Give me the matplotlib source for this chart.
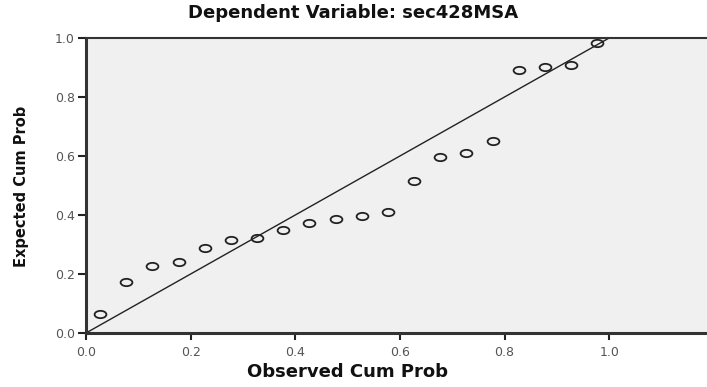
import numpy as np
import matplotlib
matplotlib.use('Agg')
import matplotlib.pyplot as plt
from matplotlib.path import Path

# observed vs expected cumulative probabilities (P-P plot of residuals)
observed = [0.027, 0.077, 0.127, 0.177, 0.227, 0.277, 0.327, 0.377, 0.427, 0.477,
            0.527, 0.577, 0.627, 0.677, 0.727, 0.777, 0.827, 0.877, 0.927, 0.977]
expected = [0.064, 0.174, 0.227, 0.241, 0.289, 0.315, 0.323, 0.349, 0.372, 0.385,
            0.397, 0.409, 0.515, 0.598, 0.611, 0.652, 0.892, 0.903, 0.907, 0.984]
ref_line = [0.0, 1.0]
ticks = [0.0, 0.2, 0.4, 0.6, 0.8, 1.0]

fig = plt.figure(figsize=(7.07, 3.87), dpi=100)
ax = fig.add_axes([86 / 707, 54 / 387, 621 / 707, 295 / 387])
ax.set_facecolor('#f0f0f0')

# squashed circle marker, like the stretched original
circ = Path.unit_circle()
ell = Path(circ.vertices * [1.0, 0.62], circ.codes)

ax.plot(ref_line, ref_line, color='#222222', lw=1.0, zorder=2)
ax.plot(observed, expected, linestyle='none', marker=ell, markersize=8.5,
        markerfacecolor='none', markeredgecolor='#222222', markeredgewidth=1.3, zorder=3)

ax.set_xlim(0, 1.187)
ax.set_ylim(0, 1.0)
ax.set_xticks(ticks)
ax.set_yticks(ticks)
ax.set_xticklabels(['%.1f' % t for t in ticks])
ax.set_yticklabels(['%.1f' % t for t in ticks])
ax.tick_params(axis='both', direction='out', colors='#222222', labelcolor='#555555',
               labelsize=9, width=1.5)
ax.tick_params(axis='y', length=6, pad=2)
ax.tick_params(axis='x', length=5, pad=4)

for s in ['left', 'bottom']:
    ax.spines[s].set_linewidth(2.2)
    ax.spines[s].set_color('#333333')
ax.spines['top'].set_linewidth(1.5)
ax.spines['top'].set_color('#333333')
ax.spines['right'].set_visible(False)

fig.text(0.5, 1 - 13 / 387, 'Dependent Variable: sec428MSA', ha='center', va='center',
         fontsize=13, fontweight='bold', color='#111111')
fig.text(0.492, 1 - 372 / 387, 'Observed Cum Prob', ha='center', va='center',
         fontsize=13, fontweight='bold', color='#111111')
fig.text(22 / 707, 1 - 186 / 387, 'Expected Cum Prob', ha='center', va='center',
         rotation=90, fontsize=10.5, fontweight='bold', color='#111111',
         family=['Liberation Sans Narrow', 'DejaVu Sans'])

fig.savefig('out.png', dpi=100)
